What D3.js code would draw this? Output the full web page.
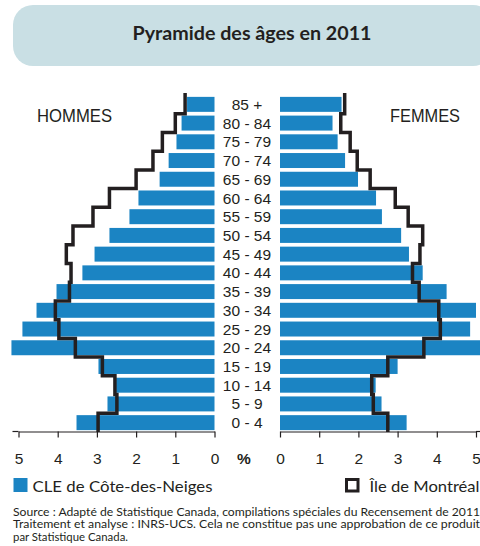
<!DOCTYPE html>
<html><head><meta charset="utf-8">
<script src="https://cdn.jsdelivr.net/npm/d3@7"></script>
<style>html,body{margin:0;padding:0;background:#fff;}svg{display:block;}</style>
</head><body>
<svg id="c" width="480" height="546"></svg>
<script>
const ageGroups = ["85 +","80 - 84","75 - 79","70 - 74","65 - 69","60 - 64","55 - 59","50 - 54","45 - 49","40 - 44","35 - 39","30 - 34","25 - 29","20 - 24","15 - 19","10 - 14","5 - 9","0 - 4"];
const hommesCLE      = [0.70,0.84,0.97,1.17,1.40,1.94,2.17,2.68,3.06,3.37,4.03,4.54,4.90,5.18,2.96,2.51,2.73,3.52];
const hommesMontreal = [0.75,1.00,1.33,1.57,2.00,2.68,3.10,3.61,3.78,3.66,3.70,4.06,3.97,3.55,2.86,2.54,2.49,2.97];
const femmesCLE      = [1.57,1.34,1.47,1.66,1.99,2.45,2.60,3.09,3.29,3.64,4.25,5.00,4.85,5.15,3.00,2.44,2.59,3.23];
const femmesMontreal = [1.65,1.55,1.79,1.97,2.30,2.94,3.27,3.64,3.57,3.38,3.55,4.05,4.09,3.67,2.75,2.34,2.38,2.75];
const axisTicks = [0,1,2,3,4,5];
const title = "Pyramide des âges en 2011";
const legendCLE = "CLE de Côte-des-Neiges";
const legendMtl = "Île de Montréal";
const sourceLines = [
 "Source : Adapté de Statistique Canada, compilations spéciales du Recensement de 2011",
 "Traitement et analyse : INRS-UCS. Cela ne constitue pas une approbation de ce produit",
 "par Statistique Canada."
];

const BLUE = "#1b84c3", INK = "#231f20";
const svg = d3.select("#c");
const roundFont = "Lato, 'Noto Sans', sans-serif";
const armFont = "'Liberation Sans', Arial, sans-serif";

// title box
svg.append("rect").attr("x",13).attr("y",5).attr("width",480).attr("height",61)
  .attr("rx",20).attr("fill","#c9dfe4");
svg.append("text").attr("x",252).attr("y",40).attr("text-anchor","middle")
  .attr("font-family",roundFont).attr("font-weight","bold").attr("font-size",18)
  .attr("fill",INK).attr("textLength",239).attr("lengthAdjust","spacingAndGlyphs").text(title);

const xL = d3.scaleLinear().domain([0,5]).range([214.5,18.5]);
const xR = d3.scaleLinear().domain([0,5]).range([280,476]);
const y = d3.scaleBand().domain(ageGroups).range([95,432]).paddingInner(0.2).paddingOuter(0.1);
const half = y.step()*y.paddingInner()/2;

// bars
svg.append("g").selectAll("rect").data(ageGroups).join("rect")
  .attr("x",(d,i)=>xL(hommesCLE[i])).attr("y",d=>y(d))
  .attr("width",(d,i)=>xL(0)-xL(hommesCLE[i])).attr("height",y.bandwidth()).attr("fill",BLUE);
svg.append("g").selectAll("rect").data(ageGroups).join("rect")
  .attr("x",xR(0)).attr("y",d=>y(d))
  .attr("width",(d,i)=>xR(femmesCLE[i])-xR(0)).attr("height",y.bandwidth()).attr("fill",BLUE);

// step lines
function stepPts(vals, xs){
  const pts=[];
  ageGroups.forEach((g,i)=>{
    const top = y(g)-half, bot = y(g)+y.bandwidth()+half;
    pts.push([xs(vals[i]), i===0 ? top-2 : top]);
    pts.push([xs(vals[i]), bot]);
  });
  return pts;
}
const line = d3.line();
svg.append("path").attr("d",line(stepPts(hommesMontreal,xL))).attr("fill","none")
  .attr("stroke",INK).attr("stroke-width",3.5).attr("stroke-linejoin","miter").attr("stroke-linecap","butt");
svg.append("path").attr("d",line(stepPts(femmesMontreal,xR))).attr("fill","none")
  .attr("stroke",INK).attr("stroke-width",3.5).attr("stroke-linejoin","miter").attr("stroke-linecap","butt");

// age labels
svg.append("g").selectAll("text").data(ageGroups).join("text")
  .attr("x",247).attr("y",d=>y(d)+y.bandwidth()/2).attr("dy","0.36em")
  .attr("text-anchor","middle").attr("font-family",armFont).attr("font-size",15.5)
  .attr("fill",INK).text(d=>d);

// sex labels
svg.append("text").attr("x",37).attr("y",122).attr("font-family",armFont).attr("font-size",18)
  .attr("fill",INK).attr("textLength",75).attr("lengthAdjust","spacingAndGlyphs").text("HOMMES");
svg.append("text").attr("x",390).attr("y",122).attr("font-family",armFont).attr("font-size",18)
  .attr("fill",INK).attr("textLength",70).attr("lengthAdjust","spacingAndGlyphs").text("FEMMES");

// axes
const axY = 431.5;
const gL = svg.append("g").attr("transform",`translate(0,${axY})`)
  .call(d3.axisBottom(xL).tickValues(axisTicks).tickFormat(d3.format("d")).tickSize(6).tickSizeOuter(0).tickPadding(15.5));
const gR = svg.append("g").attr("transform",`translate(0,${axY})`)
  .call(d3.axisBottom(xR).tickValues(axisTicks).tickFormat(d3.format("d")).tickSize(6).tickSizeOuter(0).tickPadding(15.5));
[gL,gR].forEach(g=>{
  g.selectAll("path,line").attr("stroke",INK).attr("stroke-width",1.2);
  g.selectAll("text").attr("font-family",armFont).attr("font-size",15.5).attr("fill",INK);
});
svg.append("line").attr("x1",12.5).attr("x2",xL(5)).attr("y1",axY).attr("y2",axY).attr("stroke",INK).attr("stroke-width",1.2);
svg.append("line").attr("x1",xR(5)).attr("x2",480).attr("y1",axY).attr("y2",axY).attr("stroke",INK).attr("stroke-width",1.2);
svg.append("text").attr("x",244).attr("y",464).attr("text-anchor","middle")
  .attr("font-family",armFont).attr("font-weight","bold").attr("font-size",15.5).attr("fill",INK).text("%");

// legend
svg.append("rect").attr("x",13.5).attr("y",478).attr("width",14).attr("height",14).attr("fill",BLUE);
svg.append("text").attr("x",32.5).attr("y",492).attr("font-family",roundFont).attr("font-size",16)
  .attr("fill",INK).attr("textLength",180).attr("lengthAdjust","spacingAndGlyphs").text(legendCLE);
svg.append("rect").attr("x",346.5).attr("y",479.5).attr("width",11.5).attr("height",11.5)
  .attr("fill","none").attr("stroke",INK).attr("stroke-width",3);
svg.append("text").attr("x",369.5).attr("y",492).attr("font-family",roundFont).attr("font-size",16)
  .attr("fill",INK).attr("textLength",110).attr("lengthAdjust","spacingAndGlyphs").text(legendMtl);

// source
const srcLens=[467,467,115];
svg.append("g").selectAll("text").data(sourceLines).join("text")
  .attr("x",13).attr("y",(d,i)=>515.5+i*12.8).attr("font-family",roundFont).attr("font-size",11.5)
  .attr("fill",INK).attr("textLength",(d,i)=>srcLens[i]).attr("lengthAdjust","spacingAndGlyphs").text(d=>d);
</script>
</body></html>
